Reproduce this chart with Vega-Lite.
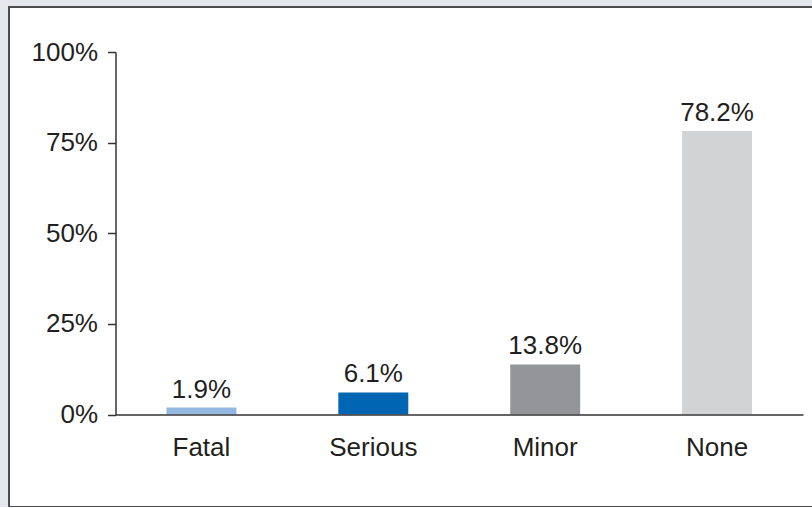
{
  "$schema": "https://vega.github.io/schema/vega-lite/v6.json",
  "width": 806,
  "height": 500,
  "autosize": "none",
  "padding": {"left": 9, "top": 7, "right": 0, "bottom": 0},
  "background": "#e4e8ec",
  "config": {
    "view": {"stroke": "#4d4d4d", "strokeWidth": 2, "fill": "#ffffff"},
    "font": "Liberation Sans"
  },
  "data": {
    "values": [
      {"severity": "Fatal", "share": 0.019},
      {"severity": "Serious", "share": 0.061},
      {"severity": "Minor", "share": 0.138},
      {"severity": "None", "share": 0.782}
    ]
  },
  "encoding": {
    "x": {
      "field": "severity",
      "type": "nominal",
      "sort": null,
      "scale": {"range": [106.5, 794], "paddingInner": 0.593, "paddingOuter": 0.2965},
      "axis": {
        "title": null,
        "labelAngle": 0,
        "ticks": false,
        "labelFontSize": 26,
        "labelColor": "#231f20",
        "labelPadding": 20,
        "domainColor": "#333333",
        "domainWidth": 1.5,
        "offset": -92.5,
        "zindex": 1
      }
    },
    "y": {
      "field": "share",
      "type": "quantitative",
      "scale": {"domain": [0, 1], "range": [407.5, 45], "nice": false, "zero": true},
      "axis": {
        "title": null,
        "values": [0, 0.25, 0.5, 0.75, 1],
        "format": ".0%",
        "grid": false,
        "tickSize": 8,
        "tickColor": "#333333",
        "tickWidth": 1.5,
        "domainColor": "#333333",
        "domainWidth": 1.5,
        "labelPadding": 10,
        "labelFontSize": 26,
        "labelColor": "#231f20",
        "offset": -106.5,
        "zindex": 1
      }
    }
  },
  "layer": [
    {
      "mark": {"type": "bar"},
      "encoding": {
        "color": {
          "field": "severity",
          "type": "nominal",
          "scale": {
            "domain": ["Fatal", "Serious", "Minor", "None"],
            "range": ["#95b8e0", "#0066b3", "#939598", "#d1d3d4"]
          },
          "legend": null
        }
      }
    },
    {
      "mark": {"type": "text", "dy": -10, "baseline": "alphabetic", "fontSize": 26, "color": "#231f20"},
      "encoding": {
        "text": {"field": "share", "type": "quantitative", "format": ".1%"}
      }
    }
  ]
}
